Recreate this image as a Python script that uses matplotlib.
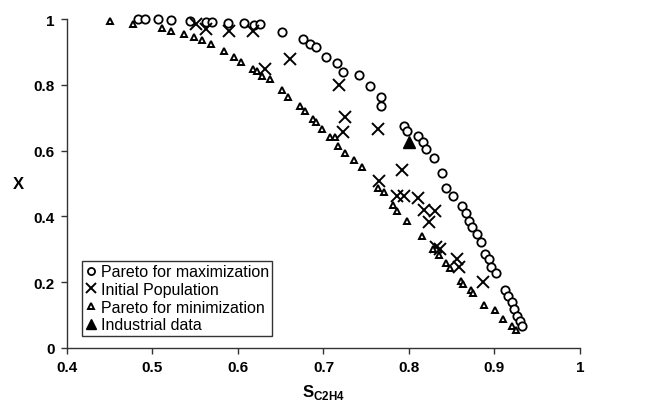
import matplotlib
matplotlib.use('Agg')
import matplotlib.pyplot as plt

# ---------------- data ----------------
max_x = [0.483, 0.491, 0.507, 0.522, 0.544, 0.563, 0.570, 0.588, 0.607, 0.619, 0.626,
         0.652, 0.676, 0.684, 0.691, 0.703, 0.716, 0.723, 0.742, 0.754, 0.767, 0.767,
         0.794, 0.798, 0.810, 0.816, 0.820, 0.829, 0.839, 0.843, 0.852, 0.862, 0.867,
         0.870, 0.874, 0.879, 0.884, 0.889, 0.893, 0.896, 0.902, 0.912, 0.916, 0.921,
         0.923, 0.926, 0.930, 0.932]
max_y = [1.000, 1.000, 1.000, 0.997, 0.995, 0.992, 0.992, 0.988, 0.988, 0.982, 0.985,
         0.960, 0.939, 0.924, 0.914, 0.885, 0.865, 0.840, 0.831, 0.797, 0.764, 0.735,
         0.676, 0.660, 0.643, 0.627, 0.605, 0.577, 0.531, 0.485, 0.463, 0.431, 0.410,
         0.387, 0.369, 0.347, 0.322, 0.286, 0.271, 0.247, 0.227, 0.177, 0.157, 0.139,
         0.120, 0.098, 0.083, 0.068]

init_x = [0.551, 0.563, 0.590, 0.617, 0.632, 0.661, 0.718, 0.725, 0.723, 0.764, 0.792,
          0.765, 0.786, 0.794, 0.811, 0.818, 0.830, 0.823, 0.831, 0.836, 0.856, 0.858,
          0.886]
init_y = [0.985, 0.970, 0.964, 0.964, 0.848, 0.878, 0.799, 0.703, 0.656, 0.666, 0.542,
          0.508, 0.463, 0.461, 0.456, 0.420, 0.417, 0.383, 0.306, 0.301, 0.271, 0.245,
          0.200]

min_x = [0.450, 0.477, 0.511, 0.522, 0.537, 0.548, 0.558, 0.568, 0.584, 0.595, 0.604,
         0.618, 0.622, 0.628, 0.638, 0.651, 0.658, 0.673, 0.678, 0.688, 0.691, 0.698,
         0.708, 0.714, 0.717, 0.725, 0.736, 0.745, 0.764, 0.771, 0.781, 0.786, 0.798,
         0.815, 0.828, 0.835, 0.843, 0.848, 0.861, 0.863, 0.872, 0.875, 0.888, 0.901,
         0.910, 0.920, 0.925]
min_y = [0.995, 0.985, 0.973, 0.964, 0.954, 0.944, 0.937, 0.924, 0.904, 0.884, 0.870,
         0.848, 0.843, 0.828, 0.818, 0.785, 0.762, 0.736, 0.720, 0.696, 0.688, 0.666,
         0.640, 0.640, 0.613, 0.592, 0.572, 0.549, 0.485, 0.473, 0.435, 0.417, 0.387,
         0.341, 0.301, 0.283, 0.258, 0.243, 0.205, 0.195, 0.177, 0.166, 0.131, 0.116,
         0.088, 0.066, 0.056]

ind_x = [0.800]
ind_y = [0.625]

labels = ['Pareto for maximization', 'Initial Population',
          'Pareto for minimization', 'Industrial data']
xticks = [0.4, 0.5, 0.6, 0.7, 0.8, 0.9, 1.0]
xtick_labels = ['0.4', '0.5', '0.6', '0.7', '0.8', '0.9', '1']
yticks = [0.0, 0.2, 0.4, 0.6, 0.8, 1.0]
ytick_labels = ['0', '0.2', '0.4', '0.6', '0.8', '1']

# ---------------- style ----------------
plt.rcParams['font.family'] = ['Liberation Sans', 'DejaVu Sans']
plt.rcParams['mathtext.fontset'] = 'custom'
plt.rcParams['mathtext.rm'] = 'Liberation Sans'
plt.rcParams['mathtext.bf'] = 'Liberation Sans:bold'

W, H = 654, 402
fig = plt.figure(figsize=(W / 100, H / 100), dpi=100)
ax = fig.add_axes([67 / W, (H - 349) / H, 513 / W, 329 / H])

ax.plot(max_x, max_y, linestyle='none', marker='o', ms=6, mfc='white',
        mec='black', mew=1.3, label=labels[0], clip_on=False, zorder=3)
ax.plot(init_x, init_y, linestyle='none', marker='x', ms=8, mec='black',
        mew=1.4, label=labels[1], clip_on=False, zorder=3)
ax.plot(min_x, min_y, linestyle='none', marker='^', ms=4.8, mfc='white',
        mec='black', mew=1.4, label=labels[2], clip_on=False, zorder=3)
ax.plot(ind_x, ind_y, linestyle='none', marker='^', ms=8, mfc='black',
        mec='black', mew=1.0, label=labels[3], clip_on=False, zorder=4)

ax.set_xlim(0.4, 1.0)
ax.set_ylim(0.0, 1.0)
ax.set_xticks(xticks)
ax.set_xticklabels(xtick_labels)
ax.set_yticks(yticks)
ax.set_yticklabels(ytick_labels)

for s in ['top', 'right']:
    ax.spines[s].set_visible(False)
for s in ['left', 'bottom']:
    ax.spines[s].set_color('#333333')
    ax.spines[s].set_linewidth(1.0)

ax.tick_params(direction='out', length=4, width=1, color='#333333',
               labelsize=11, pad=5)
for t in ax.get_xticklabels() + ax.get_yticklabels():
    t.set_fontweight('bold')

fig.text(18 / W, 1 - 185 / H, 'X', fontsize=12, fontweight='bold',
         ha='center', va='center')
fig.text(323 / W, 1 - 393 / H, r'$\mathbf{S}_{\mathbf{C2H4}}$', fontsize=12,
         ha='center', va='center')

leg = ax.legend(loc='upper left', bbox_to_anchor=(82 / W, 1 - 262 / H),
                bbox_transform=fig.transFigure, borderaxespad=0,
                fontsize=11.5, frameon=True, fancybox=False, edgecolor='black',
                handlelength=0.7, handletextpad=0.3, labelspacing=0.17,
                borderpad=0.2, markerscale=0.85)
leg.get_frame().set_linewidth(1.0)

fig.savefig('out.png', dpi=100)
